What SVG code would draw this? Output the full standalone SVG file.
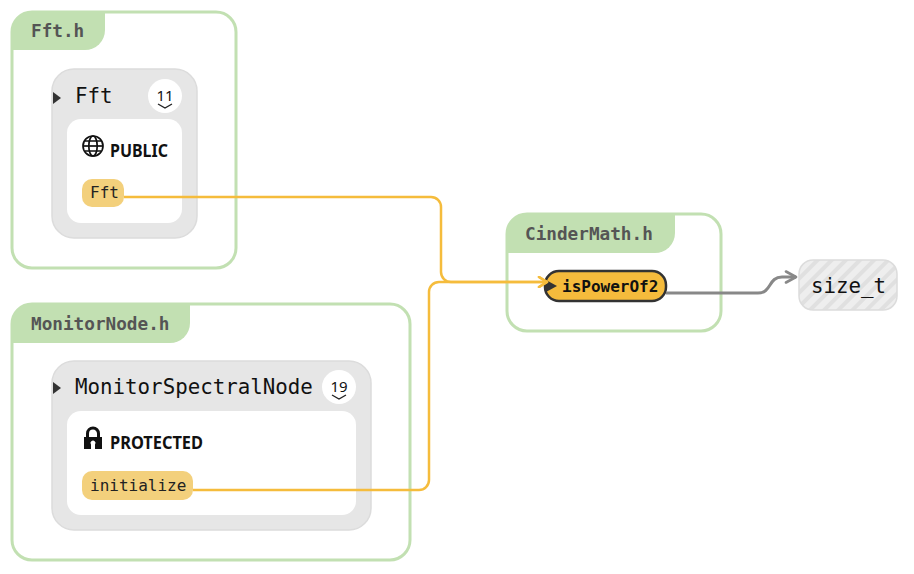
<svg xmlns="http://www.w3.org/2000/svg" width="914" height="574" viewBox="0 0 914 574">
<style>
.file{fill:#fff;stroke:#c2e0b2;stroke-width:3}
.tab{fill:#c2e0b2}
.ftitle{font-family:"DejaVu Sans Mono",monospace;font-weight:bold;font-size:17.7px;fill:#555}
.cls{fill:#e6e6e6;stroke:#dcdcdc;stroke-width:1.5}
.inner{fill:#fff}
.cname{font-family:"DejaVu Sans Mono",monospace;font-size:20.8px;fill:#111}
.vis{font-family:"Noto Sans",sans-serif;font-weight:bold;font-size:18px;fill:#111}
.pill{fill:#f3d07c}
.mem{font-family:"DejaVu Sans Mono",monospace;font-size:16px;fill:#222}
.badge{fill:#fff}
.bnum{font-family:"Noto Sans",sans-serif;font-size:15px;fill:#111}
.chev{fill:none;stroke:#222;stroke-width:1.4}
.gold{fill:none;stroke:#f5bc3c;stroke-width:2.5}
.gray{fill:none;stroke:#888;stroke-width:3}
</style>
<defs>
<marker id="ag" viewBox="0 0 12 12" refX="10" refY="6" markerWidth="12" markerHeight="12" markerUnits="userSpaceOnUse" orient="auto">
<path d="M2,1 L10,6 L2,11" fill="none" stroke="#f5bc3c" stroke-width="2.5" stroke-linecap="round" stroke-linejoin="round"/>
</marker>
<marker id="agr" viewBox="0 0 14 14" refX="12" refY="7" markerWidth="14" markerHeight="14" markerUnits="userSpaceOnUse" orient="auto">
<path d="M2,1.5 L12,7 L2,12.5" fill="none" stroke="#888" stroke-width="2.6" stroke-linecap="round" stroke-linejoin="round"/>
</marker>
<pattern id="hatch" width="10" height="10" patternUnits="userSpaceOnUse" patternTransform="rotate(45)">
<rect width="10" height="10" fill="#eeeeee"/>
<rect width="4" height="10" fill="#e0e0e0"/>
</pattern>
</defs>

<g id="file-fft">
<rect class="file" x="12" y="12" width="224" height="256" rx="20"/>
<path class="tab" d="M12,32 A20,20 0 0 1 32,12 L105,12 L105,30 A20,20 0 0 1 85,50 L12,50 Z"/>
<text class="ftitle" x="31" y="37">Fft.h</text>
<g id="class-fft">
<rect class="cls" x="52" y="69" width="145" height="169" rx="22"/>
<path d="M53,92 L61,98 L53,104 Z" fill="#333"/>
<text class="cname" x="75" y="103">Fft</text>
<circle class="badge" cx="165" cy="96" r="17"/>
<text class="bnum" x="165" y="101" text-anchor="middle">11</text>
<path class="chev" d="M158,104 L165,108 L172,104"/>
<rect class="inner" x="67" y="119" width="115" height="104" rx="14"/>
<g fill="none" stroke="#111" stroke-width="1.7">
<circle cx="93" cy="146" r="10"/>
<ellipse cx="93" cy="146" rx="4.2" ry="10"/>
<line x1="83" y1="146" x2="103" y2="146"/>
<path d="M85,141 H101 M85,151 H101"/>
</g>
<text class="vis" x="110" y="157" textLength="58" lengthAdjust="spacingAndGlyphs">PUBLIC</text>
<rect class="pill" x="82" y="179" width="42" height="28" rx="10"/>
<text class="mem" x="90" y="198">Fft</text>
</g>
</g>

<g id="file-monitornode">
<rect class="file" x="12" y="304" width="398" height="256" rx="20"/>
<path class="tab" d="M12,324 A20,20 0 0 1 32,304 L190,304 L190,323 A20,20 0 0 1 170,343 L12,343 Z"/>
<text class="ftitle" x="31" y="330">MonitorNode.h</text>
<g id="class-monitorspectralnode">
<rect class="cls" x="52" y="361" width="319" height="169" rx="22"/>
<path d="M53,382 L61,388 L53,394 Z" fill="#333"/>
<text class="cname" x="75" y="394">MonitorSpectralNode</text>
<circle class="badge" cx="339" cy="387" r="17"/>
<text class="bnum" x="339" y="392" text-anchor="middle">19</text>
<path class="chev" d="M332,395 L339,399 L346,395"/>
<rect class="inner" x="67" y="411" width="289" height="104" rx="14"/>
<path d="M87.5,437 V433.5 A5.5,5.5 0 0 1 98.5,433.5 V437" fill="none" stroke="#111" stroke-width="3"/>
<path d="M84,437 H102 V449 H95 V444.5 A2.5,2.5 0 1 0 91,444.5 V449 H84 Z" fill="#111"/>
<text class="vis" x="110" y="449" textLength="93" lengthAdjust="spacingAndGlyphs">PROTECTED</text>
<rect class="pill" x="82" y="471" width="111" height="29" rx="10"/>
<text class="mem" x="90" y="491">initialize</text>
</g>
</g>

<g id="file-cindermath">
<rect class="file" x="507" y="214" width="214" height="117" rx="20"/>
<path class="tab" d="M507,234 A20,20 0 0 1 527,214 L675,214 L675,233 A20,20 0 0 1 655,253 L507,253 Z"/>
<text class="ftitle" x="525" y="240">CinderMath.h</text>
<g id="fn-ispowerof2">
<rect x="545" y="271" width="121" height="30" rx="14" fill="#f5bb3c" stroke="#333" stroke-width="2.5"/>
<path d="M546,280 L557,286 L546,292 Z" fill="#333"/>
<text x="562" y="292" font-family="DejaVu Sans Mono,monospace" font-weight="bold" font-size="16px" fill="#111">isPowerOf2</text>
</g>
</g>

<g id="type-size_t">
<rect x="799" y="260" width="98" height="50" rx="14" fill="url(#hatch)" stroke="#dcdcdc" stroke-width="1.5"/>
<text class="cname" x="811" y="293">size_t</text>
</g>

<g id="connectors">
<path class="gold" d="M124,197 H431 A10,10 0 0 1 441,207 V272 A10,10 0 0 0 451,282 H547" marker-end="url(#ag)"/>
<path class="gold" d="M193,490 H419 A10,10 0 0 0 429,480 V292 A10,10 0 0 1 439,282 H547" marker-end="url(#ag)"/>
<path class="gray" d="M666,293 H758 C772,293 768,277 782,277 H796" marker-end="url(#agr)"/>
</g>
</svg>
